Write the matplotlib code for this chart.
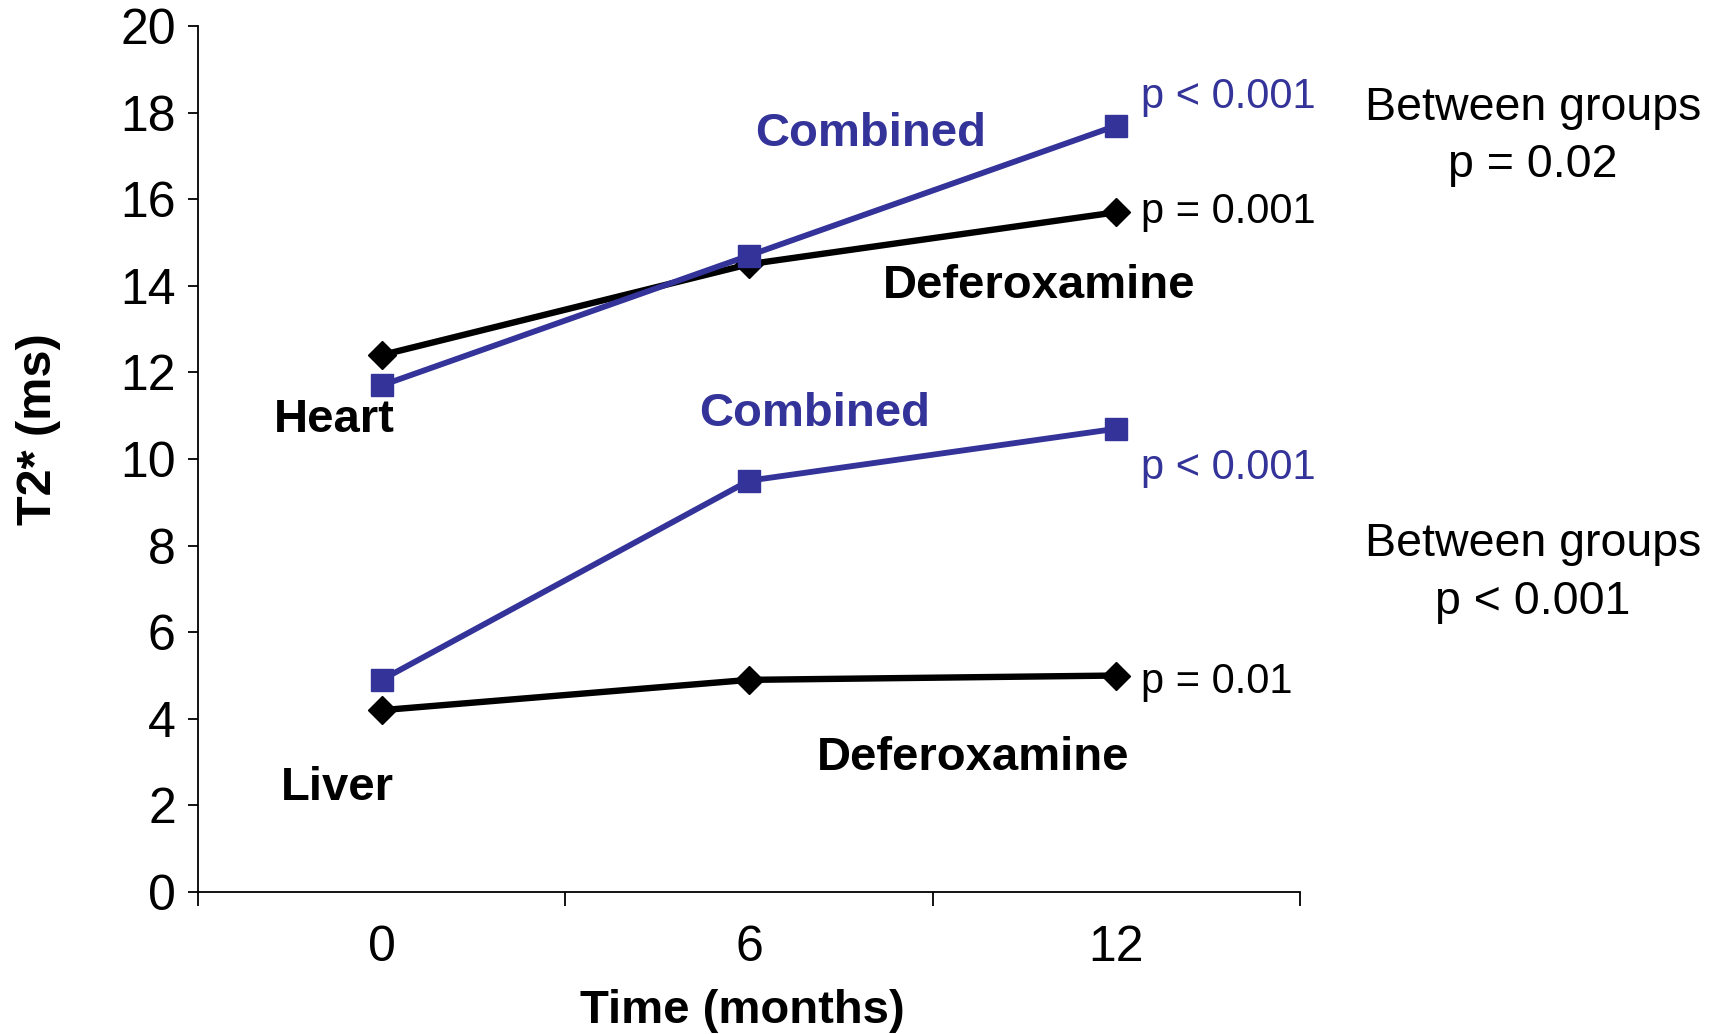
import numpy as np
import matplotlib.pyplot as plt

plt.rcParams['font.family'] = ['Liberation Sans', 'DejaVu Sans']

months = ['0', '6', '12']
heart_defer = [12.4, 14.5, 15.7]
heart_comb = [11.7, 14.7, 17.7]
liver_comb = [4.9, 9.5, 10.7]
liver_defer = [4.2, 4.9, 5.0]
yticks = [0, 2, 4, 6, 8, 10, 12, 14, 16, 18, 20]

blue = '#333399'
x = np.arange(len(months))

fig = plt.figure(figsize=(17.23, 10.34), dpi=100)
ax = fig.add_axes([0.1149, 0.1373, 0.6396, 0.8375])

ax.plot(x, heart_defer, color='black', lw=4.6, marker='D', ms=14, zorder=3)
ax.plot(x, heart_comb, color=blue, lw=4.2, marker='s', ms=16, zorder=3)
ax.plot(x, liver_comb, color=blue, lw=4.2, marker='s', ms=16, zorder=3)
ax.plot(x, liver_defer, color='black', lw=4.6, marker='D', ms=14, zorder=3)

ax.set_xlim(-0.5, 2.5)
ax.set_ylim(0, 20)
ax.set_yticks(yticks)
ax.set_xticks(x)
ax.set_xticklabels(months)
ax.set_xticks([-0.5, 0.5, 1.5, 2.5], minor=True)
ax.tick_params(axis='x', which='major', length=0, pad=24, labelsize=36)
ax.tick_params(axis='x', which='minor', length=10, width=1.3, direction='out')
ax.tick_params(axis='y', length=7, width=1.3, pad=9, labelsize=36)
for s in ['top', 'right']:
    ax.spines[s].set_visible(False)
for s in ['left', 'bottom']:
    ax.spines[s].set_linewidth(1.3)

ax.set_ylabel('T2* (ms)', fontsize=35, fontweight='bold', va='center')
ax.yaxis.set_label_coords(-0.145, 0.535)
ax.set_xlabel('Time (months)', fontsize=34, fontweight='bold', va='center')
ax.xaxis.set_label_coords(0.494, -0.137)

bold = dict(fontsize=34, fontweight='bold', ha='center', va='center')
ax.text(1.33, 17.5, 'Combined', color=blue, **bold)
ax.text(1.79, 14.0, 'Deferoxamine', color='black', **bold)
ax.text(-0.13, 10.9, 'Heart', color='black', **bold)
ax.text(1.18, 11.05, 'Combined', color=blue, **bold)
ax.text(1.61, 3.1, 'Deferoxamine', color='black', **bold)
ax.text(-0.12, 2.4, 'Liver', color='black', **bold)

pv = dict(fontsize=30, ha='left', va='center')
ax.text(2.066, 18.35, 'p < 0.001', color=blue, **pv)
ax.text(2.066, 15.7, 'p = 0.001', color='black', **pv)
ax.text(2.066, 9.8, 'p < 0.001', color=blue, **pv)
ax.text(2.066, 4.85, 'p = 0.01', color='black', **pv)

fig.text(0.8897, 0.868, 'Between groups\np = 0.02', fontsize=33.5,
         ha='center', va='center', linespacing=1.4)
fig.text(0.8897, 0.446, 'Between groups\np < 0.001', fontsize=33.5,
         ha='center', va='center', linespacing=1.4)

fig.savefig('out.png', dpi=100)
